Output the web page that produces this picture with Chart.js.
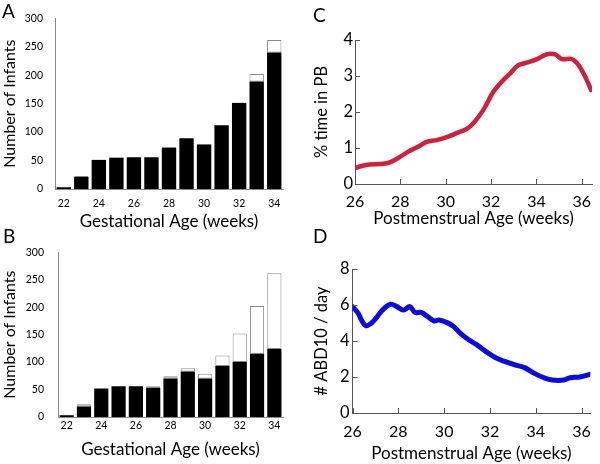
<!DOCTYPE html>
<html><head><meta charset="utf-8">
<script src="https://cdn.jsdelivr.net/npm/chart.js@4/dist/chart.umd.min.js"></script>
<style>
html,body{margin:0;padding:0;background:#fff;}
#wrap{position:relative;width:600px;height:464px;overflow:hidden;background:#fff;}
canvas{position:absolute;}
.lbl{position:absolute;font-family:Lato,"Open Sans",sans-serif;font-size:19px;line-height:19px;color:#000;}
</style></head><body>
<div id="wrap">
<canvas id="cA" width="300" height="232" style="left:0;top:0"></canvas>
<canvas id="cB" width="300" height="232" style="left:0;top:232px"></canvas>
<canvas id="cC" width="300" height="232" style="left:300px;top:0"></canvas>
<canvas id="cD" width="300" height="232" style="left:300px;top:232px"></canvas>
<div class="lbl" style="left:2px;top:1px">A</div>
<div class="lbl" style="left:3px;top:226px">B</div>
<div class="lbl" style="left:313px;top:5px">C</div>
<div class="lbl" style="left:313px;top:226px">D</div>
</div>
<script>
// ---- data ----
const gestWeeks = ['22','23','24','25','26','27','28','29','30','31','32','33','34'];
const barTickLabels = ['22','24','26','28','30','32','34'];
const totalInfants = [4, 23, 52, 56, 56, 56, 74, 89, 79, 112, 152, 202, 262];
const blackA = [3, 21, 51, 55, 56, 56, 72, 89, 78, 112, 151, 189, 240];
const blackB = [3, 19, 52, 56, 56, 53, 70, 83, 70, 93, 100, 115, 124];
const barYTicks = [0, 50, 100, 150, 200, 250, 300];

const pmaTicks = [26, 28, 30, 32, 34, 36];
const pbWeeks = [26.0, 26.3, 26.66, 27.25, 27.62, 28.0, 28.35, 28.8, 29.16, 29.6, 30.05, 30.5, 30.9, 31.22, 31.66, 32.1, 32.54, 32.84, 33.2, 33.57, 34.0, 34.45, 34.82, 35.12, 35.56, 35.85, 36.15, 36.41];
const pbPercent = [0.44, 0.5, 0.54, 0.56, 0.62, 0.76, 0.9, 1.04, 1.17, 1.22, 1.3, 1.42, 1.52, 1.69, 2.06, 2.56, 2.89, 3.07, 3.3, 3.37, 3.46, 3.6, 3.6, 3.47, 3.47, 3.31, 2.98, 2.61];
const pbYTicks = [0, 1, 2, 3, 4];
const abdWeeks = [26.0, 26.25, 26.39, 26.57, 26.81, 27.02, 27.31, 27.66, 27.94, 28.22, 28.51, 28.72, 29.0, 29.28, 29.57, 29.78, 30.13, 30.42, 30.69, 30.98, 31.4, 31.83, 32.25, 32.67, 33.09, 33.51, 33.94, 34.36, 34.72, 35.22, 35.5, 35.92, 36.35];
const abdRate = [5.91, 5.54, 5.17, 4.85, 4.98, 5.26, 5.72, 6.04, 5.91, 5.72, 5.91, 5.59, 5.59, 5.35, 5.11, 5.17, 5.02, 4.8, 4.45, 4.15, 3.81, 3.41, 3.07, 2.85, 2.67, 2.52, 2.2, 1.96, 1.83, 1.83, 1.96, 2.0, 2.15];
const abdYTicks = [0, 2, 4, 6, 8];

const FONT = 'Lato, "Open Sans", sans-serif';
Chart.defaults.font.family = FONT;
Chart.defaults.color = '#000';

const inwardTicks = {
  id: 'inwardTicks',
  afterDatasetsDraw(chart, args, opts) {
    if (!opts || !opts.enabled) return;
    const {ctx, chartArea: a, scales: {x, y}} = chart;
    ctx.save();
    ctx.strokeStyle = opts.color; ctx.lineWidth = 1;
    ctx.beginPath();
    x.ticks.forEach(t => { const px = Math.round(x.getPixelForValue(t.value)) + 0.5; ctx.moveTo(px, a.bottom); ctx.lineTo(px, a.bottom - opts.len); });
    y.ticks.forEach(t => { const py = Math.round(y.getPixelForValue(t.value)) + 0.5; ctx.moveTo(a.left, py); ctx.lineTo(a.left + opts.len, py); });
    ctx.stroke(); ctx.restore();
  }
};

function barChart(id, black, L) {
  const white = totalInfants.map((t, i) => (t - black[i]) > 0 ? t - black[i] : null);
  new Chart(document.getElementById(id), {
    type: 'bar',
    data: {
      labels: gestWeeks,
      datasets: [
        {data: black, backgroundColor: '#000', borderWidth: 0, categoryPercentage: 1, barPercentage: 0.82},
        {data: white, backgroundColor: '#fff', borderColor: '#8a8a8a', borderWidth: 1, borderSkipped: false, categoryPercentage: 1, barPercentage: 0.82}
      ]
    },
    options: {
      responsive: false, animation: false,
      layout: {padding: {top: L.top, right: L.right, left: 0, bottom: 0}},
      plugins: {legend: {display: false}, tooltip: {enabled: false}},
      scales: {
        x: {
          stacked: true,
          grid: {display: false, drawTicks: false},
          border: {display: true, color: '#8a8a8a', width: 1},
          ticks: {autoSkip: false, maxRotation: 0, padding: L.xpad, font: {size: 10.5},
            callback: (v, i) => barTickLabels.includes(gestWeeks[i]) ? gestWeeks[i] : ''},
          title: {display: true, text: 'Gestational Age (weeks)', font: {size: 17}, padding: {top: 0, bottom: L.xtpad}},
          afterFit: s => { s.height = L.xh; }
        },
        y: {
          stacked: true, min: 0, max: 300,
          afterBuildTicks: s => { s.ticks = barYTicks.map(v => ({value: v})); },
          grid: {display: false, drawTicks: false},
          border: {display: true, color: '#8a8a8a', width: 1},
          ticks: {padding: L.ypad, font: {size: 10.5}},
          title: {display: true, text: 'Number of Infants', font: {size: 16}, padding: {top: L.ytpad, bottom: 0}},
          afterFit: s => { s.width = L.yw; }
        }
      }
    }
  });
}

function lineChart(id, xs, ys, color, width, ymax, yTicks, ytitle, L) {
  new Chart(document.getElementById(id), {
    type: 'line',
    data: {datasets: [{data: xs.map((x, i) => ({x: x, y: ys[i]})), borderColor: color, borderWidth: width, pointRadius: 0, tension: 0.35, fill: false, borderCapStyle: 'round', borderJoinStyle: 'round'}]},
    options: {
      responsive: false, animation: false,
      layout: {padding: {top: L.top, right: L.right, left: 0, bottom: 0}},
      plugins: {legend: {display: false}, tooltip: {enabled: false}, inwardTicks: {enabled: true, len: 5, color: '#555'}},
      scales: {
        x: {
          type: 'linear', min: 26, max: L.xmax,
          afterBuildTicks: s => { s.ticks = pmaTicks.map(v => ({value: v})); },
          grid: {display: false, drawTicks: false},
          border: {display: true, color: '#555', width: 1},
          ticks: {padding: L.xpad, font: {size: 16}},
          title: {display: true, text: 'Postmenstrual Age (weeks)', font: {size: 17}, padding: {top: 0, bottom: L.xtpad}},
          afterFit: s => { s.height = L.xh; }
        },
        y: {
          min: 0, max: ymax,
          afterBuildTicks: s => { s.ticks = yTicks.map(v => ({value: v})); },
          grid: {display: false, drawTicks: false},
          border: {display: true, color: '#555', width: 1},
          ticks: {padding: L.ypad, font: {size: 16.5}},
          title: {display: true, text: ytitle, font: {size: 16.5}, padding: {top: L.ytpad, bottom: 0}},
          afterFit: s => { s.width = L.yw; }
        }
      }
    },
    plugins: [inwardTicks]
  });
}

barChart('cA', blackA, {top: 12, right: 17, xh: 43, yw: 55, xpad: 8, xtpad: 0, ypad: 12, ytpad: 0});
barChart('cB', blackB, {top: 9, right: 17, xh: 47, yw: 58, xpad: 2, xtpad: 4, ypad: 14, ytpad: 0});
lineChart('cC', pbWeeks, pbPercent, '#d21f3c', 4.5, 4, pbYTicks, '% time in PB', {top: 40, right: 8, xh: 48, yw: 55, xmax: 36.45, xpad: 8, xtpad: 3, ypad: 2, ytpad: 12});
lineChart('cD', abdWeeks, abdRate, '#0a0ae8', 5, 8, abdYTicks, '# ABD10 / day', {top: 37, right: 3, xh: 51, yw: 52.5, xmax: 36.38, xpad: 9, xtpad: 0, ypad: 3, ytpad: 12});
</script>
</body></html>
